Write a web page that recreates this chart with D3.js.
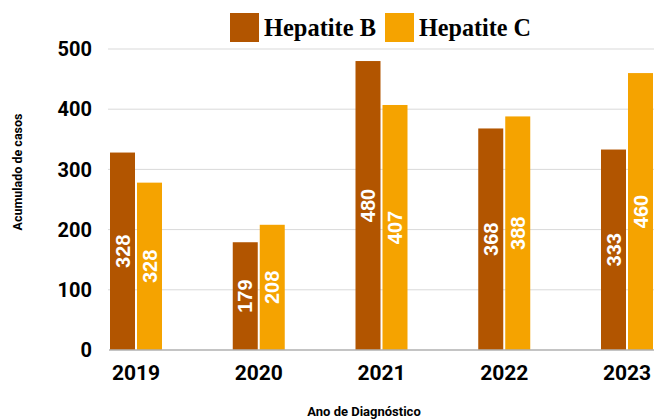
<!DOCTYPE html>
<html>
<head>
<meta charset="utf-8">
<script src="https://cdn.jsdelivr.net/npm/d3@7"></script>
<style>
  body { margin: 0; background: #fff; }
</style>
</head>
<body>
<div class="container"></div>
<script>
const years = ['2019', '2020', '2021', '2022', '2023'];
const hepB = [328, 179, 480, 368, 333];
const hepC = [278, 208, 407, 388, 460];
const hepBLabels = ['328', '179', '480', '368', '333'];
const hepCLabels = ['328', '208', '407', '388', '460'];
const yTicks = [0, 100, 200, 300, 400, 500];
const seriesNames = ['Hepatite B', 'Hepatite C'];
const colors = ['#b25500', '#f5a300'];

const w = 654;
const h = 419;

const svg = d3.select('.container')
    .append('svg')
    .attr('width', w)
    .attr('height', h);

const x = d3.scalePoint()
    .domain(years)
    .range([136, 627]);

const y = d3.scaleLinear()
    .domain([0, 500])
    .range([350, 49]);

const barW = 25;
const gap = 2;

// gridlines
svg.append('g')
    .selectAll('line')
    .data(yTicks.slice(1))
    .join('line')
    .attr('x1', 108)
    .attr('x2', w)
    .attr('y1', d => y(d))
    .attr('y2', d => y(d))
    .attr('stroke', '#d9d9d9')
    .attr('stroke-width', 1);

// y tick labels
svg.append('g')
    .selectAll('text')
    .data(yTicks)
    .join('text')
    .attr('x', 92)
    .attr('y', d => y(d))
    .attr('dy', '0.36em')
    .attr('text-anchor', 'end')
    .style('font-family', 'Roboto')
    .style('font-weight', 'bold')
    .style('font-size', '20px')
    .text(d => d);

// bars
const series = [
    { values: hepB, labels: hepBLabels, offset: -barW - gap / 2, color: colors[0] },
    { values: hepC, labels: hepCLabels, offset: gap / 2, color: colors[1] }
];

series.forEach(s => {
    svg.append('g')
        .selectAll('rect')
        .data(years)
        .join('rect')
        .attr('x', (d, i) => x(d) + s.offset)
        .attr('y', (d, i) => y(s.values[i]))
        .attr('width', barW)
        .attr('height', (d, i) => y(0) - y(s.values[i]))
        .attr('fill', s.color);

    svg.append('g')
        .selectAll('text')
        .data(years)
        .join('text')
        .attr('transform', (d, i) => `translate(${x(d) + s.offset + barW / 2},${(y(s.values[i]) + y(0)) / 2}) rotate(-90)`)
        .attr('text-anchor', 'middle')
        .attr('dy', '0.36em')
        .attr('fill', '#fff')
        .style('font-family', 'Liberation Sans')
        .style('font-weight', 'bold')
        .style('font-size', '20px')
        .text((d, i) => s.labels[i]);
});

// baseline
svg.append('line')
    .attr('x1', 109)
    .attr('x2', w)
    .attr('y1', y(0))
    .attr('y2', y(0))
    .attr('stroke', '#b0b0b0')
    .attr('stroke-width', 1.5);

// x tick labels
svg.append('g')
    .selectAll('text')
    .data(years)
    .join('text')
    .attr('x', d => x(d))
    .attr('y', 380)
    .attr('text-anchor', 'middle')
    .style('font-family', 'Roboto')
    .style('font-weight', 'bold')
    .style('font-size', '21px')
    .text(d => d);

// axis titles
svg.append('text')
    .attr('transform', 'translate(22,172) rotate(-90)')
    .attr('text-anchor', 'middle')
    .style('font-family', 'Roboto')
    .style('font-weight', 'bold')
    .style('font-size', '12.5px')
    .text('Acumulado de casos');

svg.append('text')
    .attr('x', 364)
    .attr('y', 416)
    .attr('text-anchor', 'middle')
    .style('font-family', 'Roboto')
    .style('font-weight', 'bold')
    .style('font-size', '13px')
    .text('Ano de Diagnóstico');

// legend
const legend = svg.append('g')
    .selectAll('g')
    .data(seriesNames)
    .join('g')
    .attr('transform', (d, i) => `translate(${230 + i * 155},13)`);

legend.append('rect')
    .attr('width', 29)
    .attr('height', 29)
    .attr('fill', (d, i) => colors[i]);

legend.append('text')
    .attr('x', 34)
    .attr('y', 23)
    .attr('textLength', 112)
    .attr('lengthAdjust', 'spacingAndGlyphs')
    .style('font-family', 'Liberation Serif')
    .style('font-weight', 'bold')
    .style('font-size', '25px')
    .text(d => d);
</script>
</body>
</html>
